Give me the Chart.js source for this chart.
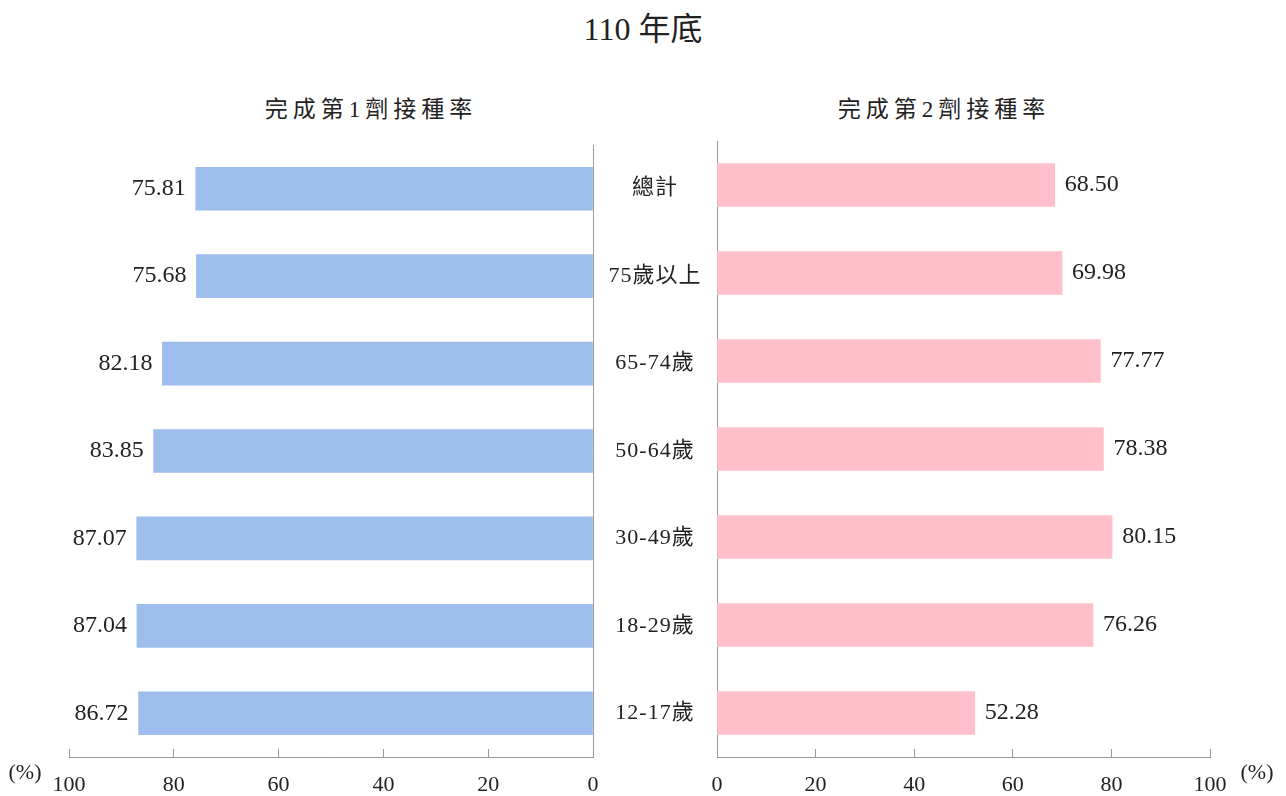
<!DOCTYPE html>
<html>
<head>
<meta charset="utf-8">
<style>
  html, body { margin: 0; background: #fff; overflow: hidden; }
  #wrap { position: relative; width: 1286px; height: 796px; overflow: hidden; }
  .head { position: absolute; text-align: center; color: #222;
          font-family: 'Liberation Serif', 'Noto Sans CJK TC', serif; white-space: nowrap; }
  #title { left: 0; top: 11px; width: 1286px; font-size: 32px; line-height: 36px; }
  #sub1 { left: 166px; top: 96px; width: 400px; font-size: 23px; line-height: 28px; letter-spacing: 5px; padding-left: 5px; }
  #sub2 { left: 739px; top: 96px; width: 400px; font-size: 23px; line-height: 28px; letter-spacing: 5px; padding-left: 5px; }
  #left { position: absolute; left: 0; top: 0; }
  #right { position: absolute; left: 590px; top: 0; }
</style>
</head>
<body>
<div id="wrap">
  <div id="title" class="head">110 年底</div>
  <div id="sub1" class="head"></div>
  <div id="sub2" class="head"></div>
  <canvas id="left" width="732" height="796"></canvas>
  <canvas id="right" width="696" height="796"></canvas>
</div>

<script src="https://cdn.jsdelivr.net/npm/chart.js"></script>

<script>
  const categories = ['總計', '75歲以上', '65-74歲', '50-64歲', '30-49歲', '18-29歲', '12-17歲']
  const dose1 = [75.81, 75.68, 82.18, 83.85, 87.07, 87.04, 86.72]
  const dose2 = [68.50, 69.98, 77.77, 78.38, 80.15, 76.26, 52.28]
  const titles = ['完成第1劑接種率', '完成第2劑接種率']

  document.getElementById('sub1').textContent = titles[0]
  document.getElementById('sub2').textContent = titles[1]

  const FONT = "'Liberation Serif', 'Noto Sans CJK TC', serif"
  const TEXT = '#222'
  const AXIS = '#9a9a9a'
  Chart.defaults.font.family = FONT
  Chart.defaults.color = TEXT

  // value labels next to the bar ends, plus the (%) unit;
  // then widen letter spacing a bit for the category labels, which draw after the bars (ticks.z: 1)
  const valueLabels = {
    id: 'valueLabels',
    afterDatasetsDraw(chart, args, opts) {
      const ctx = chart.ctx
      const meta = chart.getDatasetMeta(0)
      ctx.save()
      ctx.font = '24px ' + FONT
      ctx.fillStyle = TEXT
      ctx.textBaseline = 'middle'
      meta.data.forEach((bar, i) => {
        const v = chart.data.datasets[0].data[i].toFixed(2)
        if (opts.side === 'left') {
          ctx.textAlign = 'right'
          ctx.fillText(v, bar.x - 10, bar.y)
        } else {
          ctx.textAlign = 'left'
          ctx.fillText(v, bar.x + 10, bar.y)
        }
      })
      ctx.font = '22px ' + FONT
      ctx.textAlign = 'center'
      ctx.fillText('(%)', opts.unitX, 773)
      ctx.restore()
      ctx.letterSpacing = '1px'
    },
    afterDraw(chart) {
      chart.ctx.letterSpacing = '0px'
    }
  }

  const xAxis = (reverse) => ({
    min: 0,
    max: 100,
    reverse: reverse,
    afterFit: s => { s.height = 39 },
    grid: { drawOnChartArea: false, tickLength: -8, color: AXIS },
    border: { color: AXIS },
    ticks: { stepSize: 20, padding: 23, font: { size: 22 }, color: TEXT, maxRotation: 0 }
  })

  new Chart(document.getElementById('left'), {
    type: 'bar',
    data: {
      labels: categories,
      datasets: [{ data: dose1, backgroundColor: '#9dbdec', barThickness: 43 }]
    },
    options: {
      indexAxis: 'y',
      responsive: false,
      animation: false,
      layout: { padding: { left: 69, right: 15, top: 145, bottom: 0 } },
      plugins: {
        legend: { display: false },
        tooltip: { enabled: false },
        valueLabels: { side: 'left', unitX: 25 }
      },
      scales: {
        x: xAxis(true),
        y: {
          position: 'right',
          afterFit: s => { s.width = 124 },
          grid: { display: false },
          border: { display: true, color: AXIS },
          ticks: { z: 1, crossAlign: 'center', padding: 10, font: { size: 22 }, color: TEXT }
        }
      }
    },
    plugins: [valueLabels]
  })

  new Chart(document.getElementById('right'), {
    type: 'bar',
    data: {
      labels: categories,
      datasets: [{ data: dose2, backgroundColor: '#ffc0cb', barThickness: 43 }]
    },
    options: {
      indexAxis: 'y',
      responsive: false,
      animation: false,
      layout: { padding: { left: 0, right: 76, top: 141, bottom: 0 } },
      plugins: {
        legend: { display: false },
        tooltip: { enabled: false },
        valueLabels: { side: 'right', unitX: 667 }
      },
      scales: {
        x: xAxis(false),
        y: {
          position: 'left',
          afterFit: s => { s.width = 127 },
          grid: { display: false },
          border: { display: true, color: AXIS },
          ticks: { display: false }
        }
      }
    },
    plugins: [valueLabels]
  })
</script>
</body>
</html>
